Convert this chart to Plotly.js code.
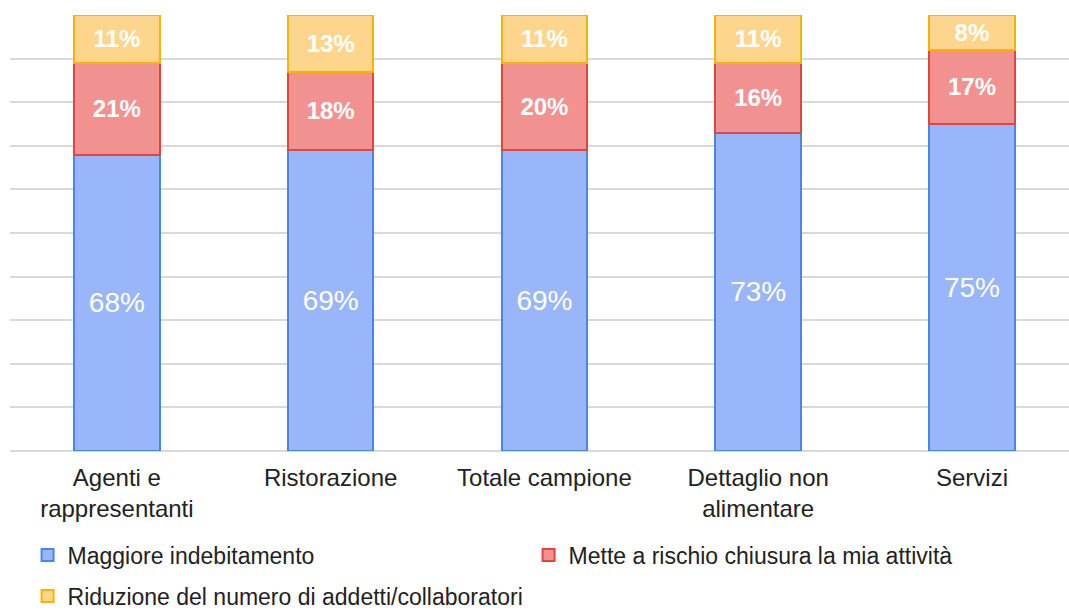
<!DOCTYPE html>
<html>
<head>
<meta charset="utf-8">
<script src="https://cdn.plot.ly/plotly-3.0.1.min.js"></script>
<style>html,body{margin:0;padding:0;background:#fff;}#chart{width:1069px;height:612px;}</style>
</head>
<body>
<div id="chart"></div>
<script>
var categories = ["Agenti e<br>rappresentanti", "Ristorazione", "Totale campione", "Dettaglio non<br>alimentare", "Servizi"];
var seriesNames = ["Maggiore indebitamento", "Mette a rischio chiusura la mia attività", "Riduzione del numero di addetti/collaboratori"];
var indebitamento = [68, 69, 69, 73, 75];
var rischioChiusura = [21, 18, 20, 16, 17];
var riduzioneAddetti = [11, 13, 11, 11, 8];

function pct(arr){ return arr.map(function(v){ return v + "%"; }); }
var font = "Liberation Sans, Arial, sans-serif";

var traces = [
  {type:"bar", name:seriesNames[0], x:categories, y:indebitamento, text:pct(indebitamento),
   textposition:"inside", insidetextanchor:"middle", textangle:0,
   textfont:{family:font, size:28, color:"#ffffff"},
   marker:{color:"#99b6fa", line:{color:"#4a86e8", width:2}}, hoverinfo:"skip", legend:"legend"},
  {type:"bar", name:seriesNames[1], x:categories, y:rischioChiusura, text:pct(rischioChiusura),
   textposition:"inside", insidetextanchor:"middle", textangle:0,
   textfont:{family:font, size:24, color:"#ffffff", weight:"bold"},
   marker:{color:"#f29290", line:{color:"#e0453e", width:2}}, hoverinfo:"skip", legend:"legend"},
  {type:"bar", name:seriesNames[2], x:categories, y:riduzioneAddetti, text:pct(riduzioneAddetti),
   textposition:"inside", insidetextanchor:"middle", textangle:0,
   textfont:{family:font, size:24, color:"#ffffff", weight:"bold"},
   marker:{color:"#fed58d", line:{color:"#f4b400", width:2}}, hoverinfo:"skip", legend:"legend2"}
];

var layout = {
  width:1069, height:612,
  margin:{l:10, r:0, t:15, b:161},
  paper_bgcolor:"#ffffff", plot_bgcolor:"#ffffff",
  barmode:"stack", bargap:0.6,
  font:{family:font, size:23, color:"#222222"},
  xaxis:{type:"category", range:[-0.5, 4.454], showgrid:false, zeroline:false, showline:false, automargin:false,
         ticks:"", ticklabelstandoff:10, tickfont:{family:font, size:24, color:"#222222"}, fixedrange:true},
  yaxis:{range:[0,100], dtick:10, showticklabels:false, showgrid:true, gridcolor:"#d9d9d9", gridwidth:2, automargin:false,
         zeroline:true, zerolinecolor:"#d9d9d9", zerolinewidth:2, showline:false, ticks:"", fixedrange:true},
  showlegend:true,
  legend:{orientation:"h", x:0.0166, xanchor:"left", yref:"container", y:0.0931, yanchor:"middle",
          entrywidth:456, entrywidthmode:"pixels", font:{family:font, size:23, color:"#222222"},
          traceorder:"normal", bgcolor:"rgba(0,0,0,0)"},
  legend2:{orientation:"h", x:0.0166, xanchor:"left", yref:"container", y:0.026, yanchor:"middle",
          font:{family:font, size:23, color:"#222222"}, bgcolor:"rgba(0,0,0,0)"}
};

Plotly.newPlot("chart", traces, layout, {displayModeBar:false, staticPlot:true});
</script>
</body>
</html>
